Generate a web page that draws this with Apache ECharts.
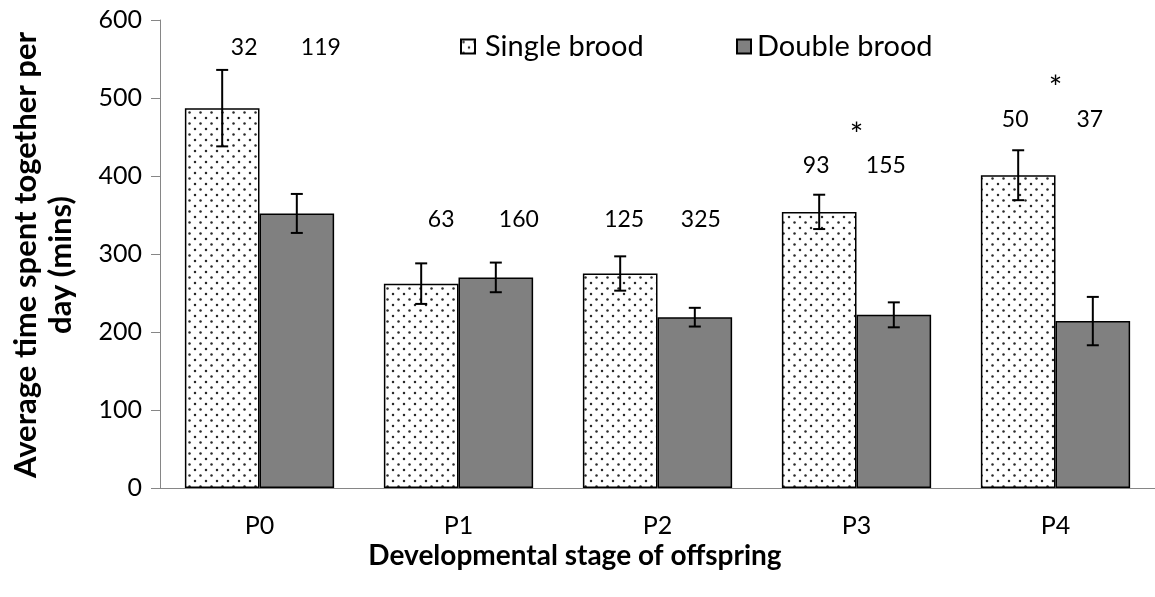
<!DOCTYPE html>
<html>
<head>
<meta charset="utf-8">
<script src="https://cdn.jsdelivr.net/npm/echarts@6/dist/echarts.min.js"></script>
<style>
  html, body { margin: 0; padding: 0; background: #ffffff; }
  #chart { width: 1155px; height: 597px; }
</style>
</head>
<body>
<div id="chart"></div>
<script>
// Developmental stages of offspring
const categories = ['P0', 'P1', 'P2', 'P3', 'P4'];

// Average time spent together per day (mins), with standard error
const singleMean = [487, 262, 275, 354, 401];
const singleSE   = [49, 26, 22, 22, 32];
const doubleMean = [352, 270, 219, 222, 214];
const doubleSE   = [25, 19, 12, 16, 31];

// Sample sizes written above each stage
const singleN = [32, 63, 125, 93, 50];
const doubleN = [119, 160, 325, 155, 37];

// Significance markers between broods
const significance = ['', '', '', '*', '*'];

// Value-axis heights at which the annotations sit, and their pixel nudges
const nLabelLevel = [565, 344, 344, 413, 472];
const starLevel   = [0, 0, 0, 452, 512];
const singleNDx = [22, 20, 4, -3, -3];
const doubleNDx = [24, 23, 6, -8, -3];

const FONT = 'Lato, "Open Sans", sans-serif';

// Dotted fill used for the single-brood bars
function dotPattern() {
  const c = document.createElement('canvas');
  c.width = 11; c.height = 11;
  const g = c.getContext('2d');
  g.fillStyle = '#ffffff';
  g.fillRect(0, 0, 11, 11);
  g.fillStyle = '#2a2a2a';
  g.beginPath(); g.arc(2.5, 2.5, 1.25, 0, Math.PI * 2); g.fill();
  g.beginPath(); g.arc(8, 8, 1.25, 0, Math.PI * 2); g.fill();
  return c;
}
const dots = { image: dotPattern(), repeat: 'repeat' };

const BAR_SHIFT = 0.1875; // bar centre offset as a fraction of the band

function errorBars(means, ses, side) {
  return {
    type: 'custom',
    z: 5,
    data: means.map((m, i) => [i, m, ses[i]]),
    renderItem: function (params, api) {
      const i = api.value(0);
      const band = api.size([1, 0])[0];
      const cx = api.coord([i, 0])[0] + side * band * BAR_SHIFT;
      const hi = api.coord([i, api.value(1) + api.value(2)])[1];
      const lo = api.coord([i, api.value(1) - api.value(2)])[1];
      const cap = 6;
      const st = { stroke: '#000', lineWidth: 2 };
      return {
        type: 'group',
        children: [
          { type: 'line', shape: { x1: cx, y1: hi, x2: cx, y2: lo }, style: st },
          { type: 'line', shape: { x1: cx - cap, y1: hi, x2: cx + cap, y2: hi }, style: st },
          { type: 'line', shape: { x1: cx - cap, y1: lo, x2: cx + cap, y2: lo }, style: st }
        ]
      };
    }
  };
}

const chart = echarts.init(document.getElementById('chart'), null, { renderer: 'canvas' });

chart.setOption({
  animation: false,
  backgroundColor: '#ffffff',
  textStyle: { fontFamily: FONT },
  grid: { left: 160, top: 20, width: 1004, height: 468 },
  legend: [
    {
      data: ['Single brood'], left: 455, top: 27, icon: 'rect',
      itemWidth: 14, itemHeight: 14, itemGap: 0,
      textStyle: { fontSize: 29, color: '#000', fontFamily: FONT, padding: [0, 0, 0, 5] }
    },
    {
      data: ['Double brood'], left: 731, top: 27, icon: 'rect',
      itemWidth: 14, itemHeight: 14, itemGap: 0,
      textStyle: { fontSize: 29, color: '#000', fontFamily: FONT, padding: [0, 0, 0, 1] }
    }
  ],
  xAxis: {
    type: 'category',
    data: categories,
    axisLine: { lineStyle: { color: '#868686', width: 1 } },
    axisTick: { length: 9, lineStyle: { color: '#868686' } },
    axisLabel: { fontSize: 25, color: '#000', margin: 25, fontFamily: FONT },
    splitLine: { show: false }
  },
  yAxis: {
    type: 'value',
    min: 0, max: 600, interval: 100,
    axisLine: { show: true, lineStyle: { color: '#868686', width: 1 } },
    axisTick: { show: true, length: 9, lineStyle: { color: '#868686' } },
    axisLabel: { fontSize: 25, color: '#000', margin: 18, fontFamily: FONT },
    splitLine: { show: false }
  },
  graphic: [
    {
      type: 'text', x: 26, y: 255, rotation: Math.PI / 2,
      style: {
        text: 'Average time spent together per', fontSize: 31, fontWeight: 'bold',
        fontFamily: FONT, fill: '#000', align: 'center', verticalAlign: 'middle'
      }
    },
    {
      type: 'text', x: 61, y: 265, rotation: Math.PI / 2,
      style: {
        text: 'day (mins)', fontSize: 31, fontWeight: 'bold',
        fontFamily: FONT, fill: '#000', align: 'center', verticalAlign: 'middle'
      }
    },
    {
      type: 'text', x: 575, y: 556,
      style: {
        text: 'Developmental stage of offspring', fontSize: 28, fontWeight: 'bold',
        fontFamily: FONT, fill: '#000', align: 'center', verticalAlign: 'middle'
      }
    }
  ],
  series: [
    {
      name: 'Single brood',
      type: 'bar',
      data: singleMean,
      barGap: '0%',
      barCategoryGap: '25%',
      itemStyle: { color: dots, borderColor: '#000', borderWidth: 1.5 }
    },
    {
      name: 'Double brood',
      type: 'bar',
      data: doubleMean,
      barGap: '0%',
      barCategoryGap: '25%',
      itemStyle: { color: '#808080', borderColor: '#000', borderWidth: 1.5 }
    },
    errorBars(singleMean, singleSE, -1),
    errorBars(doubleMean, doubleSE, 1),
    {
      // sample sizes and significance stars
      type: 'custom',
      z: 6,
      data: categories.map((c, i) => [i, nLabelLevel[i]]),
      renderItem: function (params, api) {
        const i = api.value(0);
        const band = api.size([1, 0])[0];
        const cx = api.coord([i, 0])[0];
        const y = api.coord([i, api.value(1)])[1];
        const st = { fontSize: 23, fontFamily: FONT, fill: '#000', align: 'center', verticalAlign: 'middle' };
        const kids = [
          { type: 'text', x: cx - band * BAR_SHIFT + singleNDx[i], y: y, style: Object.assign({ text: String(singleN[i]) }, st) },
          { type: 'text', x: cx + band * BAR_SHIFT + doubleNDx[i], y: y, style: Object.assign({ text: String(doubleN[i]) }, st) }
        ];
        if (significance[i]) {
          const sy = api.coord([i, starLevel[i]])[1];
          kids.push({ type: 'text', x: cx, y: sy, style: Object.assign({}, st, { text: significance[i], fontSize: 32 }) });
        }
        return { type: 'group', children: kids };
      }
    }
  ]
});
</script>
</body>
</html>
